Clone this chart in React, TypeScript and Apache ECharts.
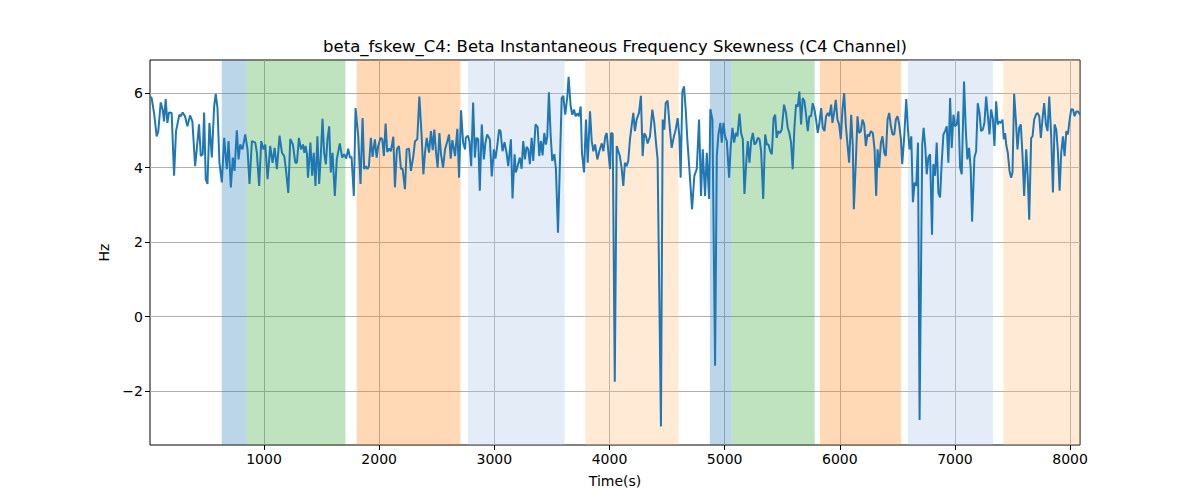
import { useEffect, useRef } from "react";
import * as echarts from "echarts";

const FONT = "DejaVu Sans";

const TITLE = "beta_fskew_C4: Beta Instantaneous Frequency Skewness (C4 Channel)";

// [time (s), skewness (Hz)], one array per stretch of the trace
const segA: [number, number][] = [
    [10, 5.91], [24, 5.87], [45, 5.47], [68, 4.84], [82, 4.98], [103, 5.75], [120, 5.56], [132, 5.24],
    [146, 5.84], [161, 5.2], [175, 5.48], [198, 5.47], [219, 3.78], [236, 4.98], [265, 5.42], [277, 5.38],
    [294, 5.48], [314, 5.38], [335, 5.11], [358, 5.4], [378, 5.24], [402, 4.04], [416, 4.49], [436, 5.16],
    [451, 4.31], [468, 4.36], [480, 5.48], [494, 3.69], [509, 3.56], [526, 5.2], [547, 4.27], [567, 5.64],
    [581, 5.98], [596, 5.6], [613, 4.13], [634, 3.6], [654, 4.8], [677, 3.96], [692, 4.71], [712, 3.47],
    [729, 4.27], [744, 3.91], [764, 5.0], [779, 4.22], [793, 4.62], [813, 4.49], [837, 4.89], [857, 4.49],
    [874, 3.56], [895, 4.71], [924, 4.67], [938, 4.4], [958, 3.51], [976, 4.71], [996, 4.49], [1011, 4.62],
    [1031, 3.69], [1054, 4.58], [1074, 4.13], [1092, 4.53], [1112, 3.96], [1135, 4.86], [1156, 4.4],
    [1176, 4.31], [1190, 3.96], [1211, 3.32], [1228, 4.77], [1251, 4.62], [1272, 4.13], [1286, 4.13],
    [1303, 4.8], [1321, 4.49], [1338, 4.62], [1350, 4.4], [1361, 4.58], [1373, 4.36], [1382, 3.73]
];

const segB: [number, number][] = [
    [1403, 4.67], [1418, 3.78], [1432, 4.4], [1447, 3.51], [1464, 4.84], [1479, 3.56], [1493, 4.31],
    [1508, 5.31], [1522, 4.4], [1537, 4.09], [1551, 4.76], [1566, 5.11], [1580, 3.87], [1595, 4.4],
    [1615, 3.24], [1632, 4.22], [1658, 4.65], [1679, 4.27], [1696, 4.36], [1714, 4.24], [1731, 4.51],
    [1746, 4.27], [1760, 4.29], [1780, 3.24], [1795, 5.6], [1818, 4.84], [1838, 3.56], [1856, 5.33],
    [1870, 3.96], [1885, 4.04], [1899, 3.96], [1911, 4.04], [1928, 4.8], [1943, 4.29], [1963, 4.76],
    [1978, 4.27], [1992, 4.58], [2012, 4.8], [2027, 4.76], [2041, 4.31], [2056, 5.18], [2070, 4.42],
    [2088, 4.51], [2102, 4.44], [2123, 4.83], [2137, 3.47], [2154, 4.49], [2172, 4.58], [2189, 3.97],
    [2204, 3.96], [2224, 3.42], [2239, 4.49], [2259, 4.51], [2276, 3.91], [2297, 4.31], [2311, 4.71],
    [2331, 4.76], [2349, 5.91], [2369, 4.84], [2384, 3.82], [2398, 4.4], [2413, 4.8], [2433, 4.4],
    [2450, 4.98], [2465, 4.47], [2479, 5.02], [2494, 4.4], [2508, 4.0], [2523, 4.93], [2537, 4.36],
    [2555, 4.0], [2572, 4.49], [2592, 4.71], [2607, 4.89], [2621, 4.24], [2636, 4.74], [2659, 4.31],
    [2679, 5.04], [2694, 3.73], [2711, 5.54], [2729, 4.67], [2746, 4.49]
];

const segC: [number, number][] = [
    [2752, 4.8], [2770, 4.86], [2784, 4.71], [2799, 4.04], [2816, 5.75], [2831, 4.27], [2845, 4.8],
    [2860, 4.76], [2874, 3.38], [2891, 5.16], [2909, 4.22], [2923, 4.67], [2938, 4.89], [2961, 4.76],
    [2978, 3.76], [2996, 4.49], [3010, 4.24], [3025, 4.58], [3042, 5.02], [3054, 4.98], [3071, 4.44],
    [3089, 4.68], [3106, 4.4], [3121, 4.04], [3144, 4.76], [3158, 3.17], [3176, 4.36], [3187, 3.87],
    [3202, 4.04], [3222, 4.27], [3237, 3.97], [3251, 4.71], [3266, 4.22], [3280, 4.56], [3295, 4.49],
    [3309, 4.09], [3324, 4.8], [3338, 4.18], [3358, 5.16], [3376, 5.09], [3390, 4.31], [3405, 4.71],
    [3419, 4.33], [3434, 4.93], [3448, 4.62], [3460, 4.84], [3474, 6.02], [3489, 4.89], [3503, 4.18],
    [3521, 4.36], [3535, 3.96], [3553, 2.25], [3585, 5.87], [3599, 5.93], [3616, 5.42], [3634, 5.91],
    [3645, 6.44], [3663, 5.64], [3677, 5.42], [3692, 5.56], [3706, 5.38], [3721, 5.45], [3735, 5.38],
    [3750, 5.64], [3761, 4.4], [3779, 3.87], [3796, 5.29], [3811, 4.13], [3831, 5.51], [3846, 4.71],
    [3860, 4.44], [3875, 4.62], [3895, 4.22], [3912, 4.44], [3933, 4.65], [3947, 4.44], [3964, 4.84],
    [3976, 4.93], [3991, 4.4], [4005, 3.96], [4014, 4.93], [4028, 4.91], [4046, -1.75], [4063, 4.58]
];

const segD: [number, number][] = [
    [4090, 4.31], [4105, 4.0], [4120, 3.51], [4134, 4.13], [4149, 4.04], [4163, 4.18], [4178, 4.76],
    [4192, 5.11], [4207, 5.47], [4221, 4.98], [4236, 5.29], [4256, 5.47], [4273, 5.93], [4288, 4.31],
    [4302, 4.92], [4317, 4.84], [4331, 4.65], [4352, 4.84], [4372, 5.56], [4389, 5.2], [4404, 4.67],
    [4418, 4.22], [4447, -2.95], [4462, 5.29], [4476, 5.02], [4488, 5.73], [4505, 5.8], [4520, 5.2],
    [4540, 4.53], [4557, 4.8], [4575, 5.02], [4592, 5.33], [4607, 4.84], [4618, 3.73], [4633, 6.04],
    [4647, 6.18], [4662, 5.56], [4676, 4.76], [4691, 4.09], [4717, 2.88], [4737, 3.78], [4758, 3.96],
    [4778, 5.29], [4795, 3.24], [4810, 4.49], [4830, 3.24], [4845, 4.4], [4865, 3.16], [4876, 5.57],
    [4894, 5.29], [4917, -1.32], [4932, 4.31], [4946, 4.89], [4963, 5.2], [4975, 4.67], [4990, 5.2],
    [5004, 4.84], [5019, 4.71], [5039, 3.73], [5053, 4.58], [5068, 5.07], [5082, 4.67], [5097, 4.93],
    [5111, 4.84], [5129, 5.45], [5143, 4.93], [5158, 4.76], [5172, 3.29], [5187, 4.09], [5201, 4.71],
    [5216, 4.13], [5230, 4.71], [5245, 4.93], [5259, 4.62], [5274, 4.67], [5288, 4.8], [5303, 4.76],
    [5317, 4.44], [5335, 3.16], [5352, 4.89], [5367, 4.62], [5381, 4.62], [5396, 4.44], [5410, 4.36],
    [5425, 5.33], [5439, 5.42]
];

const segE: [number, number][] = [
    [5452, 4.8], [5467, 4.98], [5481, 4.93], [5496, 5.02], [5516, 5.69], [5533, 5.47], [5548, 5.07],
    [5562, 4.93], [5577, 4.67], [5591, 3.96], [5606, 5.07], [5620, 5.69], [5635, 5.64], [5649, 6.04],
    [5664, 5.16], [5678, 5.87], [5693, 5.78], [5707, 5.42], [5722, 4.98], [5736, 5.38], [5751, 5.38],
    [5765, 5.73], [5780, 5.56], [5794, 5.29], [5809, 4.93], [5823, 5.2], [5838, 5.6], [5852, 5.07],
    [5867, 4.98], [5881, 5.38], [5896, 5.47], [5910, 5.38], [5925, 5.69], [5936, 5.2], [5951, 5.47],
    [5965, 5.82], [5980, 5.29], [5994, 5.16], [6009, 4.76], [6023, 5.56], [6038, 6.0], [6052, 5.16],
    [6067, 4.62], [6081, 4.13], [6099, 5.42], [6113, 4.58], [6122, 2.88], [6142, 4.36], [6154, 5.38],
    [6168, 4.93], [6183, 4.98], [6197, 5.29], [6212, 5.16], [6226, 4.58], [6241, 4.89], [6255, 4.84],
    [6270, 4.98], [6287, 4.93], [6302, 4.49], [6316, 3.24], [6328, 4.49], [6342, 4.0], [6357, 4.67],
    [6371, 4.84], [6386, 4.4], [6400, 4.31], [6415, 5.29], [6429, 5.47], [6444, 5.11], [6458, 4.89],
    [6473, 4.89], [6487, 5.29], [6502, 5.38], [6516, 5.16], [6531, 4.76], [6542, 4.09], [6560, 4.84],
    [6577, 5.84], [6592, 5.02], [6606, 4.49], [6621, 4.84], [6635, 3.07], [6650, 3.6], [6664, 3.51],
    [6679, 4.67], [6693, -2.78], [6716, 4.62], [6728, 5.07], [6743, 4.53]
];

const segF: [number, number][] = [
    [6755, 3.82], [6769, 4.27], [6784, 4.36], [6801, 2.2], [6812, 4.09], [6827, 3.78], [6842, 4.67],
    [6856, 3.33], [6871, 3.2], [6885, 4.13], [6900, 4.89], [6914, 4.98], [6929, 5.11], [6943, 4.13],
    [6958, 5.87], [6972, 4.53], [6987, 5.42], [7001, 5.11], [7016, 5.16], [7030, 5.51], [7045, 4.0],
    [7059, 3.82], [7079, 6.31], [7094, 5.02], [7108, 4.22], [7123, 4.53], [7137, 3.96], [7149, 2.55],
    [7169, 4.27], [7184, 4.44], [7198, 5.73], [7213, 5.47], [7227, 4.98], [7242, 5.02], [7256, 5.2],
    [7271, 5.91], [7285, 5.42], [7300, 4.89], [7314, 5.56], [7329, 5.33], [7343, 4.58], [7358, 5.78],
    [7372, 5.16], [7387, 5.24], [7401, 5.2], [7413, 5.29], [7424, 4.76], [7436, 4.93], [7445, 4.62],
    [7459, 4.4], [7474, 3.91], [7488, 3.73], [7500, 3.87], [7514, 5.98], [7529, 5.29], [7543, 4.49],
    [7558, 5.07], [7572, 5.16], [7587, 4.31], [7601, 3.24], [7619, 4.49], [7633, 3.69], [7645, 2.6],
    [7662, 4.8], [7674, 4.84], [7688, 5.29], [7703, 5.42], [7717, 5.47], [7732, 5.38], [7746, 4.8],
    [7761, 5.33], [7775, 5.73], [7790, 5.16], [7804, 4.98], [7819, 5.91], [7836, 4.84], [7851, 3.33],
    [7865, 5.16], [7880, 5.02], [7894, 4.44], [7909, 3.38], [7923, 4.4], [7938, 4.84], [7952, 4.31],
    [7967, 4.98], [7981, 4.89], [7996, 5.29], [8010, 5.57], [8025, 5.56], [8039, 5.38], [8054, 5.51],
    [8068, 5.51], [8086, 5.42]
];

// shaded stretches
const bandStarts = [633, 850, 1805, 2772, 3789, 4872, 5061, 5828, 6592, 7421];
const bandEnds = [850, 1707, 2706, 3610, 4600, 5061, 5782, 6532, 7331, 8086];
const bandColors = [
    "rgba(31,119,180,0.3)",
    "rgba(44,160,44,0.3)",
    "rgba(255,127,14,0.3)",
    "rgba(174,199,232,0.33)",
    "rgba(255,187,120,0.3)",
    "rgba(31,119,180,0.3)",
    "rgba(44,160,44,0.3)",
    "rgba(255,127,14,0.3)",
    "rgba(174,199,232,0.33)",
    "rgba(255,187,120,0.3)"
];

const xTicks = [1000, 2000, 3000, 4000, 5000, 6000, 7000, 8000];
const yTicks = [-2, 0, 2, 4, 6];

const X_MIN = 10;
const X_MAX = 8086;
const Y_MIN = -3.45;
const Y_MAX = 6.89;

function SkewnessChart() {

    const chartRef =
        useRef<HTMLDivElement>(null);

    useEffect(() => {

        if (!chartRef.current)
            return;

        document.body.style.margin = "0";

        const chart =
            echarts.init(chartRef.current, undefined, { renderer: "svg" });

        const data = [...segA, ...segB, ...segC, ...segD, ...segE, ...segF];

        const tickLabel = {
            color: "#000",
            fontFamily: FONT,
            fontSize: 14
        };

        chart.setOption({

            animation: false,

            grid: {
                left: 150,
                right: 120,
                top: 60,
                bottom: 55,
                show: true,
                borderColor: "#000",
                borderWidth: 1
            },

            graphic: [
                {
                    type: "text",
                    x: 615,
                    y: 46,
                    style: {
                        text: TITLE,
                        fill: "#000",
                        font: `16.5px "${FONT}"`,
                        textAlign: "center",
                        textVerticalAlign: "middle"
                    }
                }
            ],

            xAxis: {
                type: "value",
                min: X_MIN,
                max: X_MAX,
                splitNumber: 8,
                name: "Time(s)",
                nameLocation: "middle",
                nameGap: 29,
                nameTextStyle: tickLabel,
                axisLine: { show: false, onZero: false },
                axisTick: {
                    show: true,
                    length: 5,
                    customValues: xTicks,
                    lineStyle: { color: "#000" }
                },
                axisLabel: {
                    ...tickLabel,
                    margin: 7,
                    customValues: xTicks,
                    formatter: (v: number) => String(v)
                },
                splitLine: {
                    show: true,
                    lineStyle: { color: "#b0b0b0", width: 1 }
                }
            },

            yAxis: {
                type: "value",
                min: Y_MIN,
                max: Y_MAX,
                splitNumber: 5,
                name: "Hz",
                nameLocation: "middle",
                nameGap: 38,
                nameTextStyle: tickLabel,
                axisLine: { show: false, onZero: false },
                axisTick: {
                    show: true,
                    length: 5,
                    customValues: yTicks,
                    lineStyle: { color: "#000" }
                },
                axisLabel: {
                    ...tickLabel,
                    margin: 7,
                    customValues: yTicks,
                    formatter: (v: number) =>
                        v < 0 ? "\u2212" + Math.abs(v) : String(v)
                },
                splitLine: {
                    show: true,
                    lineStyle: { color: "#b0b0b0", width: 1 }
                }
            },

            series: [
                {
                    type: "line",
                    data,
                    showSymbol: false,
                    lineStyle: { color: "#1f77b4", width: 2 },
                    itemStyle: { color: "#1f77b4" },
                    markArea: {
                        silent: true,
                        data: bandStarts.map((start, i) => [
                            {
                                xAxis: start,
                                itemStyle: { color: bandColors[i] }
                            },
                            { xAxis: bandEnds[i] }
                        ])
                    }
                }
            ]
        });

        return () => {
            chart.dispose();
        };

    }, []);

    return (
        <div
            ref={chartRef}
            style={{
                width: "1200px",
                height: "500px"
            }}
        />
    );
}

export default function App() {
    return <SkewnessChart />;
}
